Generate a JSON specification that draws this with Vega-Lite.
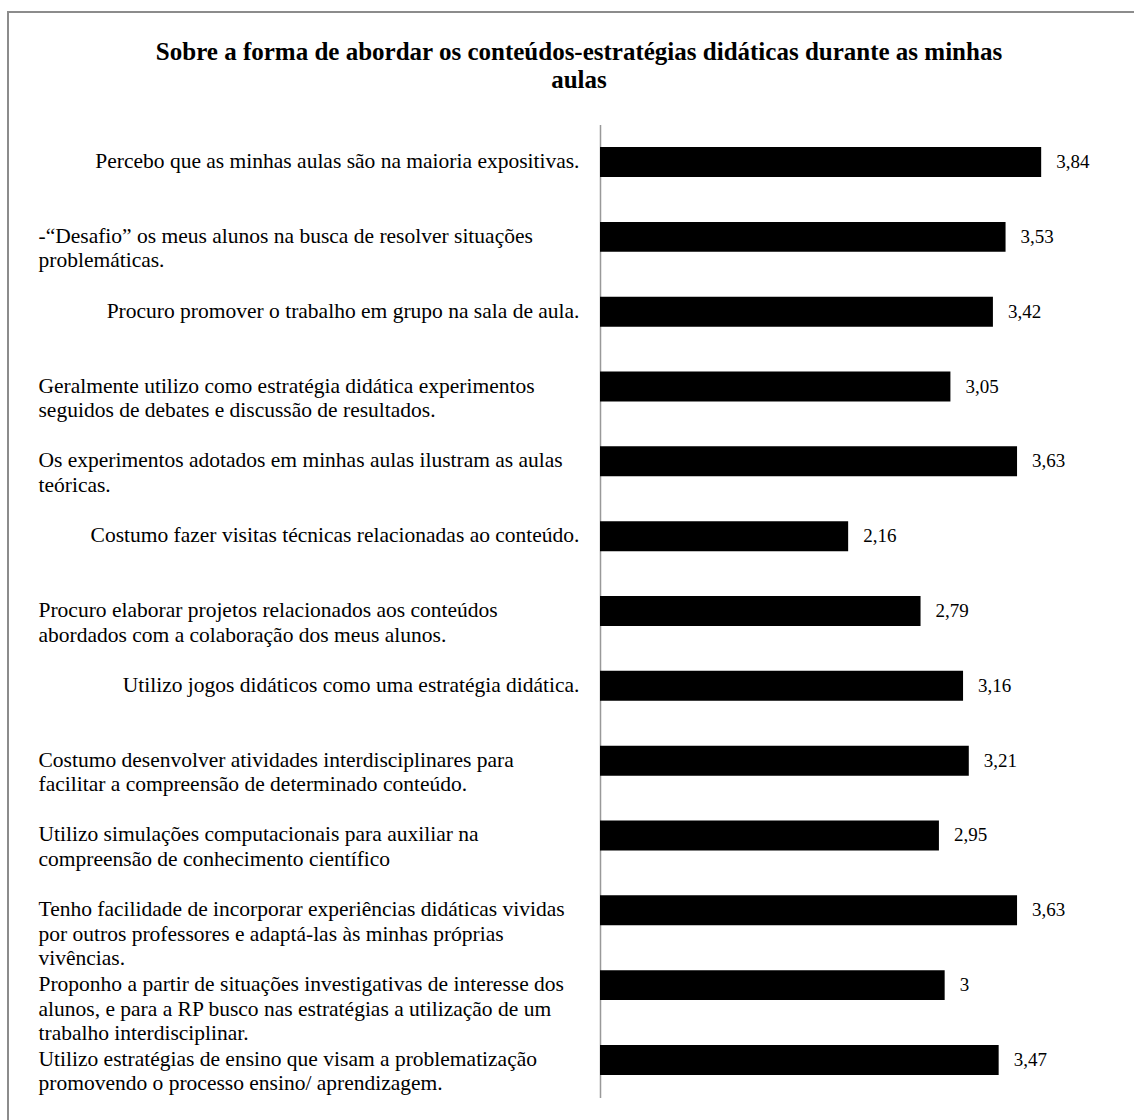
{
  "$schema": "https://vega.github.io/schema/vega-lite/v6.json",
  "width": 1128,
  "height": 1110,
  "padding": {"left": 8, "top": 12, "right": -2, "bottom": -2},
  "autosize": {"type": "none"},
  "background": "white",
  "title": {
    "text": ["Sobre a forma de abordar os conteúdos-estratégias didáticas durante as minhas", "aulas"],
    "font": "Times New Roman, Liberation Serif, serif",
    "fontSize": 25,
    "fontWeight": "bold",
    "color": "black",
    "anchor": "middle",
    "frame": "group",
    "offset": -81,
    "lineHeight": 28,
    "dx": 7
  },
  "data": {
    "values": [
      {"label": "Percebo que as minhas aulas são na maioria expositivas.", "value": 3.84},
      {"label": "-“Desafio” os meus alunos na busca de resolver situações|problemáticas.", "value": 3.53},
      {"label": "Procuro promover o trabalho em grupo na sala de aula.", "value": 3.42},
      {"label": "Geralmente utilizo como estratégia didática experimentos|seguidos de debates e discussão de resultados.", "value": 3.05},
      {"label": "Os experimentos adotados em minhas aulas ilustram as aulas|teóricas.", "value": 3.63},
      {"label": "Costumo fazer visitas técnicas relacionadas ao conteúdo.", "value": 2.16},
      {"label": "Procuro elaborar projetos relacionados aos conteúdos|abordados com a colaboração dos meus alunos.", "value": 2.79},
      {"label": "Utilizo jogos didáticos como uma estratégia didática.", "value": 3.16},
      {"label": "Costumo desenvolver atividades interdisciplinares para|facilitar a compreensão de determinado conteúdo.", "value": 3.21},
      {"label": "Utilizo simulações computacionais para auxiliar na|compreensão de conhecimento científico", "value": 2.95},
      {"label": "Tenho facilidade de incorporar experiências didáticas vividas|por outros professores e adaptá-las às minhas próprias|vivências.", "value": 3.63},
      {"label": "Proponho a partir de situações investigativas de interesse dos|alunos, e para a RP busco nas estratégias a utilização de um|trabalho interdisciplinar.", "value": 3},
      {"label": "Utilizo estratégias de ensino que visam a problematização|promovendo o processo ensino/ aprendizagem.", "value": 3.47}
    ]
  },
  "encoding": {
    "y": {
      "field": "label",
      "type": "nominal",
      "sort": null,
      "scale": {"range": [112.6, 1085.4], "paddingInner": 0.6, "paddingOuter": 0.3},
      "axis": {
        "title": null,
        "orient": "left",
        "offset": -592,
        "domain": true,
        "domainColor": "#999999",
        "domainWidth": 1.5,
        "ticks": false,
        "tickSize": 0,
        "labelFont": "Liberation Serif",
        "labelFontSize": 21.5,
        "labelColor": "black",
        "labelLimit": 0,
        "labelLineHeight": 24.5,
        "labelBaseline": "middle",
        "labelExpr": "split(datum.value, '|')",
        "labelAlign": {"condition": {"test": "indexof(datum.value, '|') >= 0", "value": "left"}, "value": "right"},
        "labelPadding": {"condition": {"test": "indexof(datum.value, '|') >= 0", "value": 562}, "value": 21}
      }
    },
    "x": {
      "field": "value",
      "type": "quantitative",
      "scale": {"domain": [0, 4.5], "range": [592, 1109], "nice": false, "zero": true},
      "axis": null
    }
  },
  "layer": [
    {"mark": {"type": "bar", "color": "black"}},
    {
      "mark": {"type": "text", "align": "left", "baseline": "middle", "dx": 15, "font": "Liberation Serif", "fontSize": 19, "color": "black"},
      "encoding": {"text": {"field": "value", "type": "quantitative", "format": ".3~g"}}
    }
  ],
  "config": {
    "font": "Liberation Serif",
    "title": {"font": "Times New Roman, Liberation Serif, serif", "fontWeight": "bold", "color": "black"},
    "style": {"group-title": {"font": "Times New Roman, Liberation Serif, serif"}},
    "view": {"stroke": "#8c8c8c", "strokeWidth": 2},
    "locale": {"number": {"decimal": ",", "thousands": ".", "grouping": [3], "currency": ["R$", ""]}}
  }
}
